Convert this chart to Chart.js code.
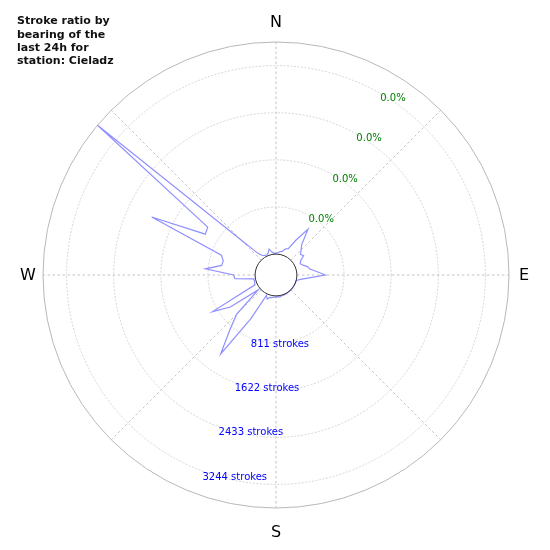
<!DOCTYPE html>
<html>
<head>
<meta charset="utf-8">
<script src="https://cdn.jsdelivr.net/npm/chart.js@4.4.0/dist/chart.umd.min.js"></script>
<style>
  html, body { margin: 0; padding: 0; background: #fff; }
  #wrap { width: 550px; height: 550px; }
</style>
</head>
<body>
<div id="wrap"><canvas id="rose" width="550" height="550"></canvas></div>
<script>
// Stroke rose: strokes per 5 degree bearing bin

// bin bearings, degrees clockwise from north
const bearings = [
    0, 5, 10, 15, 20, 25, 30, 35, 40, 45, 50, 55,
    60, 65, 70, 75, 80, 85, 90, 95, 100, 105, 110, 115,
    120, 125, 130, 135, 140, 145, 150, 155, 160, 165, 170, 175,
    180, 185, 190, 195, 200, 205, 210, 215, 220, 225, 230, 235,
    240, 245, 250, 255, 260, 265, 270, 275, 280, 285, 290, 295,
    300, 305, 310, 315, 320, 325, 330, 335, 340, 345, 350, 355
];

// strokes per bin
const strokes = [
    15, 25, 50, 60, 120, 140, 340, 600, 330, 250, 190, 220,
    130, 100, 135, 200, 230, 340, 490, 210, 70, 5, 0, 0,
    0, 0, 5, 0, 5, 0, 10, 5, 15, 10, 25, 15,
    20, 20, 35, 40, 80, 30, 510, 1300, 880, 600, 40, 600,
    900, 40, 30, 25, 30, 350, 370, 860, 590, 580, 640, 2000,
    1046, 1075, 3650, 496, 132, 50, 30, 20, 40, 100, 40, 15
];

// radial rings and their labels
const ringTicks = [811, 1622, 2433, 3244];
const ringLabels = ['811 strokes', '1622 strokes', '2433 strokes', '3244 strokes'];
const ratioLabels = ['0.0%', '0.0%', '0.0%', '0.0%'];

// compass labels and their bearings
const compassNames = ['N', 'E', 'S', 'W'];
const compassBearings = [0, 90, 180, 270];

const titleLines = ['Stroke ratio by', 'bearing of the', 'last 24h for', 'station: Cieladz'];

// radial range: the negative minimum leaves the hole in the middle
const rMin = -360;
const rMax = 3650;

// point at a bearing and a distance from the centre of the radial scale
function pointAt(scale, bearing, dist) {
    const a = bearing * Math.PI / 180 - Math.PI / 2;
    return { x: scale.xCenter + Math.cos(a) * dist, y: scale.yCenter + Math.sin(a) * dist };
}

const roseGrid = {
    id: 'roseGrid',
    beforeDatasetsDraw(chart) {
        const s = chart.scales.r;
        const ctx = chart.ctx;
        const r0 = s.getDistanceFromCenterForValue(0);
        const rOut = s.getDistanceFromCenterForValue(rMax);
        ctx.save();

        // spokes every 45 degrees
        ctx.strokeStyle = '#b4b4b4';
        ctx.lineWidth = 0.8;
        ctx.setLineDash([2.5, 2.5]);
        for (let b = 0; b < 360; b += 45) {
            const p1 = pointAt(s, b, r0);
            const p2 = pointAt(s, b, rOut);
            ctx.beginPath();
            ctx.moveTo(p1.x, p1.y);
            ctx.lineTo(p2.x, p2.y);
            ctx.stroke();
        }

        // rings
        ctx.strokeStyle = '#cccccc';
        ctx.setLineDash([2, 1.5]);
        ringTicks.forEach(v => {
            ctx.beginPath();
            ctx.arc(s.xCenter, s.yCenter, s.getDistanceFromCenterForValue(v), 0, Math.PI * 2);
            ctx.stroke();
        });

        // outer border
        ctx.setLineDash([]);
        ctx.strokeStyle = '#b8b8b8';
        ctx.lineWidth = 1;
        ctx.beginPath();
        ctx.arc(s.xCenter, s.yCenter, rOut, 0, Math.PI * 2);
        ctx.stroke();
        ctx.restore();
    },
    afterDatasetsDraw(chart) {
        const s = chart.scales.r;
        const ctx = chart.ctx;
        const r0 = s.getDistanceFromCenterForValue(0);
        const rOut = s.getDistanceFromCenterForValue(rMax);
        ctx.save();

        // hole border
        ctx.strokeStyle = '#333333';
        ctx.lineWidth = 1;
        ctx.beginPath();
        ctx.arc(s.xCenter, s.yCenter, r0, 0, Math.PI * 2);
        ctx.stroke();

        // ring labels
        ctx.font = '10px "DejaVu Sans"';
        ctx.textAlign = 'left';
        ctx.textBaseline = 'middle';
        ringTicks.forEach((v, i) => {
            const d = s.getDistanceFromCenterForValue(v);
            ctx.fillStyle = '#0000ff';
            const p = pointAt(s, 200, d + 5.5);
            ctx.fillText(ringLabels[i], p.x, p.y);
            ctx.fillStyle = '#008000';
            const q = pointAt(s, 30.5, d - 4);
            ctx.fillText(ratioLabels[i], q.x, q.y);
        });

        // compass labels
        ctx.fillStyle = '#000000';
        ctx.font = '16px "DejaVu Sans"';
        ctx.textAlign = 'center';
        compassNames.forEach((name, i) => {
            const b = compassBearings[i];
            const pad = b === 0 ? 20 : (b === 180 ? 24 : 15);
            const p = pointAt(s, b, rOut + pad);
            ctx.fillText(name, p.x, p.y + 1);
        });

        // title
        ctx.fillStyle = '#111111';
        ctx.font = 'bold 11px "DejaVu Sans"';
        ctx.textAlign = 'left';
        titleLines.forEach((line, i) => {
            ctx.fillText(line, 17, 21.5 + i * 13.3);
        });
        ctx.restore();
    }
};

new Chart(document.getElementById('rose'), {
    type: 'radar',
    data: {
        labels: bearings.map(b => b + '°'),
        datasets: [{
            label: 'Strokes',
            data: strokes,
            borderColor: '#9090ff',
            borderWidth: 1.2,
            backgroundColor: 'transparent',
            fill: false,
            pointRadius: 0,
            pointHoverRadius: 0,
            tension: 0
        }]
    },
    options: {
        responsive: false,
        animation: false,
        layout: {
            padding: { left: 43, right: 41, top: 42, bottom: 42 }
        },
        plugins: {
            legend: { display: false },
            tooltip: { enabled: false }
        },
        scales: {
            r: {
                min: rMin,
                max: rMax,
                ticks: { display: false },
                grid: { display: false },
                angleLines: { display: false },
                pointLabels: { display: false }
            }
        }
    },
    plugins: [roseGrid]
});
</script>
</body>
</html>
